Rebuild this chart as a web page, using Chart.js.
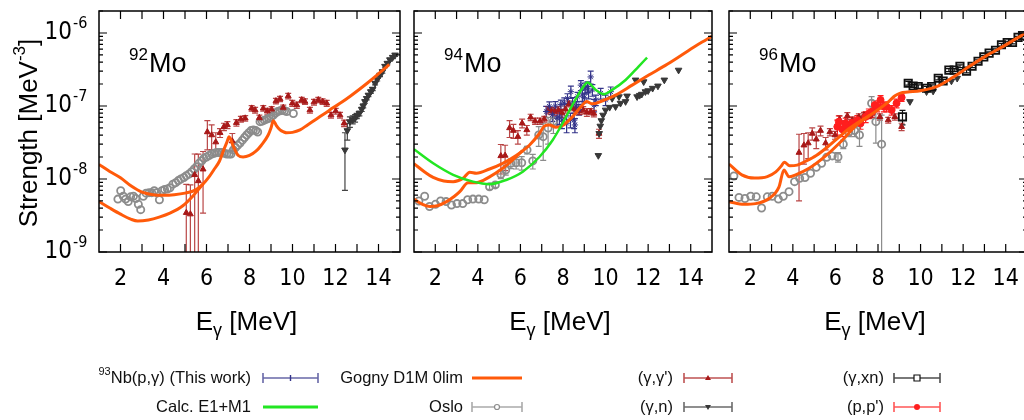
<!DOCTYPE html>
<html>
<head>
<meta charset="utf-8">
<script src="https://cdn.jsdelivr.net/npm/chart.js@4.4.1/dist/chart.umd.min.js"></script>
<style>
  body { margin: 0; width: 1024px; height: 420px; overflow: hidden; background: #fff; position: relative; }
  canvas { position: absolute; top: 0; }
</style>
</head>
<body>
<canvas id="c92" width="410" height="340" style="left:0px"></canvas>
<canvas id="c94" width="318" height="340" style="left:404px"></canvas>
<canvas id="c96" width="318" height="340" style="left:719px"></canvas>
<canvas id="legend" width="1024" height="80" style="left:0px; top:340px"></canvas>
<script>
// axis ticks
const xTicks = [2, 4, 6, 8, 10, 12, 14];
const yExponents = [-9, -8, -7, -6];

// 92Mo  [E, strength, error]
const mo92Gogny = [[1.0,1.58e-8],[1.5,1.27e-8],[2.0,1.04e-8],[2.5,8.0e-9],[3.0,6.6e-9],[3.5,6.1e-9],[4.0,6.0e-9],[4.5,6.1e-9],[5.0,6.4e-9],[5.5,7.1e-9],[5.85,8.6e-9],[6.1,1.05e-8],[6.35,1.35e-8],[6.6,1.75e-8],[6.8,2.5e-8],[6.95,3.2e-8],[7.05,3.8e-8],[7.25,2.8e-8],[7.48,2.1e-8],[7.7,2.0e-8],[8.0,2.1e-8],[8.3,2.4e-8],[8.55,2.9e-8],[8.87,4.0e-8],[9.0,5.0e-8],[9.11,6.3e-8],[9.25,5.4e-8],[9.42,4.7e-8],[9.6,4.4e-8],[9.73,4.3e-8],[10.0,4.35e-8],[10.35,4.7e-8],[10.7,5.5e-8],[11.1,6.6e-8],[11.5,7.9e-8],[11.9,9.5e-8],[12.3,1.13e-7],[12.7,1.37e-7],[13.1,1.68e-7],[13.5,2.08e-7],[13.9,2.6e-7],[14.2,3.1e-7],[14.5,3.7e-7]];
const mo92GognyLow = [[1.0,4.9e-9],[1.5,4.0e-9],[2.0,3.3e-9],[2.5,2.8e-9],[2.8,2.66e-9],[3.3,2.75e-9],[3.8,3.0e-9],[4.3,3.4e-9],[4.9,4.3e-9],[5.4,6.0e-9],[5.85,8.6e-9]];
const mo92Oslo = [[1.88,5.3e-9],[2.01,6.9e-9],[2.13,5.8e-9],[2.24,5.3e-9],[2.36,4.9e-9],[2.47,5.7e-9],[2.6,5.8e-9],[2.71,5.4e-9],[2.83,4.5e-9],[2.94,3.8e-9],[3.06,5.8e-9],[3.19,6.4e-9],[3.33,6.5e-9],[3.45,6.5e-9],[3.57,6.9e-9],[3.68,6.5e-9],[3.81,5.2e-9],[3.93,6.9e-9],[4.05,7.2e-9],[4.18,7.3e-9],[4.3,7.6e-9],[4.44,8.5e-9],[4.57,8.9e-9],[4.69,9.5e-9],[4.81,1.0e-8],[4.95,1.05e-8],[5.06,1.11e-8],[5.19,1.17e-8],[5.31,1.26e-8],[5.43,1.37e-8],[5.54,1.47e-8],[5.65,1.64e-8],[5.78,1.78e-8],[5.88,1.92e-8],[6.0,2.0e-8],[6.12,2.1e-8],[6.24,2.2e-8],[6.36,2.25e-8],[6.47,2.3e-8],[6.59,2.3e-8],[6.71,2.3e-8],[6.83,2.25e-8],[6.94,2.2e-8],[7.05,2.2e-8],[7.14,2.2e-8],[7.25,2.5e-8],[7.35,2.7e-8],[7.45,2.9e-8],[7.56,3.1e-8],[7.67,3.4e-8],[7.77,3.7e-8],[7.87,4.0e-8],[7.97,4.3e-8],[8.07,4.6e-8],[8.18,4.7e-8],[8.29,4.6e-8],[8.38,4.4e-8],[8.49,6.1e-8],[8.59,6.2e-8],[8.69,6.4e-8],[8.8,6.6e-8],[8.91,6.8e-8],[9.01,7.1e-8],[9.11,7.5e-8],[9.21,8.0e-8],[9.31,8.4e-8],[9.42,8.6e-8],[9.53,8.8e-8],[9.63,8.6e-8],[9.73,8.4e-8],[10.04,7.9e-8]];
const mo92GammaGamma = [[5.06,3.45e-9,5.0e-9],[5.25,3.3e-9,5.0e-9],[5.45,1.14e-8,1.06e-8],[5.62,9.4e-9,1.25e-8],[5.84,1.36e-8,1.02e-8],[6.04,4.4e-8,1.9e-8],[6.24,4.0e-8,1.5e-8],[6.43,3.2e-8,1.1e-8],[6.63,4.3e-8,6e-9],[6.81,5.2e-8,6e-9],[6.97,5.5e-8,6e-9],[7.2,3.3e-8,9e-9],[7.39,5.9e-8,6e-9],[7.6,6.6e-8,6e-9],[7.8,6.8e-8,6e-9],[8.1,9.3e-8,8e-9],[8.26,8.8e-8,8e-9],[8.46,6.9e-8,6e-9],[8.64,9.3e-8,8e-9],[8.83,8.5e-8,8e-9],[9.03,9.0e-8,8e-9],[9.23,1.17e-7,1e-8],[9.42,1.25e-7,1e-8],[9.57,9.5e-8,8e-9],[9.8,1.37e-7,1.2e-8],[9.99,1.09e-7,1e-8],[10.2,1.03e-7,1e-8],[10.43,1.21e-7,1e-8],[10.58,1.15e-7,1e-8],[10.81,8.8e-8,8e-9],[11.0,1.13e-7,1e-8],[11.2,1.21e-7,1e-8],[11.4,1.15e-7,1e-8],[11.59,1.09e-7,1e-8],[11.79,7.5e-8,7e-9],[12.01,8.5e-8,8e-9],[12.21,7.5e-8,7e-9],[12.4,5.8e-8,6e-9]];
const mo92GammaN = [[12.44,2.5e-8,1.8e-8],[12.55,4.6e-8,1.2e-8],[12.67,6.1e-8,1.0e-8],[12.8,6.5e-8,8e-9],[12.91,6.8e-8,8e-9],[12.99,7.3e-8,6e-9],[13.11,7.9e-8,6e-9],[13.22,9.0e-8,6e-9],[13.29,1.0e-7,6e-9],[13.37,1.15e-7,6e-9],[13.45,1.27e-7,6e-9],[13.53,1.41e-7,7e-9],[13.64,1.57e-7,8e-9],[13.73,1.7e-7,8e-9],[13.84,2.05e-7,1e-8],[13.94,2.3e-7,1e-8],[14.07,2.65e-7,1.2e-8],[14.18,2.95e-7,1.4e-8],[14.3,3.5e-7,1.6e-8],[14.41,3.85e-7,1.8e-8],[14.53,4.3e-7,2e-8],[14.66,4.65e-7,2e-8],[14.77,5.0e-7,2.2e-8]];

// 94Mo
const mo94Gogny = [[1.0,1.62e-8],[1.5,1.25e-8],[1.9,1.05e-8],[2.4,9.4e-9],[2.84,9.2e-9],[3.3,1.02e-8],[3.62,1.24e-8],[3.93,1.2e-8],[4.55,1.37e-8],[5.17,1.64e-8],[5.8,2.1e-8],[6.42,2.9e-8],[6.89,4.2e-8],[7.12,5.3e-8],[7.36,5.5e-8],[7.67,5.1e-8],[7.98,5.4e-8],[8.44,7.1e-8],[8.91,1.03e-7],[9.1,1.15e-7],[9.38,1.07e-7],[9.85,1.18e-7],[10.47,1.41e-7],[11.25,1.93e-7],[12.03,2.65e-7],[12.81,3.6e-7],[13.58,5.0e-7],[14.36,7.0e-7],[15.0,9.0e-7]];
const mo94GognyLow = [[1.0,5.3e-9],[1.4,4.5e-9],[1.75,4.2e-9],[2.1,4.3e-9],[2.53,4.9e-9],[2.9,5.8e-9],[3.15,6.7e-9],[3.54,8.9e-9],[3.93,8.9e-9],[4.55,1.07e-8],[5.17,1.4e-8],[5.64,1.82e-8],[6.1,2.45e-8]];
const mo94Calc = [[1.0,2.55e-8],[1.9,1.64e-8],[2.84,1.14e-8],[3.77,9.2e-9],[4.55,8.5e-9],[5.33,9.7e-9],[6.11,1.26e-8],[6.89,2.0e-8],[7.51,3.4e-8],[7.98,5.8e-8],[8.44,1.03e-7],[8.91,1.75e-7],[9.15,2.1e-7],[9.54,1.66e-7],[9.93,1.45e-7],[10.31,1.66e-7],[10.94,2.27e-7],[11.56,3.5e-7],[11.95,4.6e-7]];
const mo94Oslo = [[1.23,5.0e-9],[1.5,5.8e-9],[1.73,4.2e-9],[2.01,4.5e-9],[2.25,5.0e-9],[2.51,4.9e-9],[2.76,4.4e-9],[3.02,4.6e-9],[3.29,4.6e-9],[3.52,5.2e-9],[3.77,5.3e-9],[4.04,5.3e-9],[4.3,5.2e-9],[4.55,7.8e-9,6e-10],[4.82,8.3e-9,6e-10],[5.08,1.16e-8,1.5e-9],[5.31,1.33e-8,2e-9],[5.55,1.64e-8,2.5e-9],[5.8,1.67e-8,3e-9],[6.06,1.67e-8,3.5e-9],[6.31,2.5e-8,3e-9],[6.58,1.77e-8,4e-9],[6.86,4.0e-8,1.2e-8],[7.07,3.8e-8,2e-8],[7.3,5.0e-8,2e-8],[7.55,6.2e-8,2e-8]];
const mo94GammaGamma = [[5.08,2.07e-8,9e-9],[5.28,2.1e-8,8e-9],[5.49,5.0e-8,1.3e-8],[5.67,4.6e-8,1e-8],[5.88,3.8e-8,8e-9],[6.08,5.8e-8,8e-9],[6.3,4.7e-8,7e-9],[6.48,7.0e-8,7e-9],[6.69,6.2e-8,6e-9],[6.92,6.2e-8,6e-9],[7.12,6.6e-8,6e-9],[7.3,8.8e-8,1e-8],[7.45,8.6e-8,1e-8],[7.6,8.4e-8,1e-8],[7.78,8.8e-8,1e-8],[7.95,8.0e-8,1e-8],[8.12,9.0e-8,1e-8],[8.28,1.07e-7,1e-8],[8.45,9.6e-8,1e-8],[8.6,9.0e-8,1e-8],[8.78,8.6e-8,1e-8],[8.95,8.8e-8,1e-8],[9.12,8.2e-8,1e-8],[9.3,8.4e-8,8e-9],[9.45,7.9e-8,8e-9],[9.69,4.2e-8,6e-9]];
const mo94ThisWork = [[7.21,8.4e-8,1.5e-8],[7.36,9.9e-8,1.5e-8],[7.5,7.6e-8,1.5e-8],[7.64,1.0e-7,1.5e-8],[7.72,6.8e-8,1.5e-8],[7.83,7.1e-8,1.5e-8],[7.9,1.05e-7,1.5e-8],[7.95,6.4e-8,1.5e-8],[8.06,1.09e-7,2e-8],[8.17,5.8e-8,1.5e-8],[8.21,1.27e-7,2e-8],[8.35,6.5e-8,1.5e-8],[8.37,1.57e-7,3e-8],[8.45,1.1e-7,2e-8],[8.52,6.4e-8,1.5e-8],[8.56,5.5e-8,1.2e-8],[8.62,1.0e-7,1.5e-8],[8.68,1.34e-7,2e-8],[8.75,9.0e-8,1.5e-8],[8.84,1.93e-7,3e-8],[8.91,1.41e-7,2.5e-8],[9.0,1.3e-7,2e-8],[9.04,1.75e-7,3e-8],[9.15,1.84e-7,3e-8],[9.2,1.55e-7,3e-8],[9.3,2.5e-7,5e-8],[9.38,1.66e-7,3e-8],[9.46,1.03e-7,2e-8],[9.54,1.21e-7,2e-8],[9.77,1.49e-7,2.5e-8],[10.0,1.21e-7,2e-8],[10.24,1.57e-7,2.5e-8]];
const mo94GammaN = [[9.66,2.1e-8],[9.7,4.2e-8],[9.75,5.3e-8],[9.8,6.3e-8],[9.88,7.5e-8],[10.0,8.8e-8],[10.19,9.6e-8],[10.31,1.27e-7],[10.47,9.8e-8],[10.63,1.34e-7],[10.7,1.09e-7],[10.94,1.15e-7],[11.01,1.37e-7],[11.41,2.27e-7],[11.48,1.34e-7],[11.6,1.4e-7],[11.7,1.45e-7],[11.79,2.15e-7],[11.87,1.57e-7],[12.0,1.62e-7],[12.21,1.75e-7],[12.46,1.88e-7],[12.76,2.27e-7],[13.43,3.1e-7]];

// 96Mo
const mo96Gogny = [[1.0,1.6e-8],[1.6,1.14e-8],[2.2,1.03e-8],[2.8,1.08e-8],[3.2,1.25e-8],[3.45,1.5e-8],[3.6,1.7e-8],[3.85,1.52e-8],[4.2,1.55e-8],[4.6,1.75e-8],[5.1,2.1e-8],[5.6,2.7e-8],[6.1,3.6e-8],[6.6,4.8e-8],[7.15,6.2e-8],[7.6,7.4e-8],[8.1,9.3e-8],[8.5,1.15e-7],[8.8,1.38e-7],[9.05,1.5e-7],[9.4,1.55e-7],[10.0,1.62e-7],[10.75,1.84e-7],[11.5,2.45e-7],[12.3,3.5e-7],[13.1,4.9e-7],[13.9,6.6e-7],[14.8,9.4e-7],[15.0,1.0e-6]];
const mo96GognyLow = [[1.0,4.9e-9],[1.7,4.5e-9],[2.25,4.6e-9],[2.88,5.4e-9],[3.35,7.8e-9],[3.58,1.33e-8],[3.82,1.07e-8],[4.13,1.14e-8],[4.76,1.4e-8],[5.54,2.07e-8],[6.32,3.4e-8],[7.0,5.5e-8],[7.6,7.4e-8]];
const mo96Oslo = [[1.23,1.1e-8],[1.47,5.6e-9],[1.75,5.4e-9],[2.02,5.8e-9],[2.28,5.7e-9],[2.53,4.0e-9],[2.8,5.7e-9],[3.03,5.8e-9],[3.32,5.3e-9],[3.55,5.8e-9],[3.82,6.7e-9],[4.08,9.2e-9],[4.32,1.02e-8],[4.57,1.05e-8],[4.83,1.2e-8],[5.1,1.45e-8],[5.35,1.64e-8],[5.59,1.98e-8],[5.85,2.07e-8],[6.12,2.0e-8,3e-9],[6.37,3.0e-8,4e-9],[6.63,4.4e-8,6e-9],[6.9,4.6e-8,8e-9],[7.13,4.0e-8,1.2e-8],[7.7,1.09e-7,2.5e-8],[7.9,6.1e-8,3e-8],[8.17,3.0e-8,4.5e-8]];
const mo96GammaGamma = [[4.29,2.3e-8,1.8e-8],[4.52,2.9e-8,1.3e-8],[4.72,3.1e-8,1.2e-8],[4.91,4.2e-8,8e-9],[5.1,3.5e-8,9e-9],[5.3,4.6e-8,7e-9],[5.54,3.1e-8,6e-9],[5.74,4.4e-8,5e-9],[5.98,4.0e-8,5e-9],[6.2,6.5e-8,8e-9],[6.56,7.3e-8,8e-9],[6.79,6.4e-8,7e-9],[7.1,7.1e-8,7e-9],[7.34,7.5e-8,7e-9],[7.62,7.5e-8,7e-9],[7.73,8.1e-8,7e-9],[8.09,7.1e-8,7e-9],[8.48,6.4e-8,6e-9],[8.79,7.1e-8,7e-9],[9.11,5.2e-8,6e-9]];
const mo96PP = [[6.09,5.2e-8,1.2e-8],[6.16,6.1e-8,1.2e-8],[6.32,4.8e-8,1e-8],[6.48,5.8e-8,1e-8],[6.63,5.0e-8,1e-8],[6.79,5.9e-8,1e-8],[7.03,6.4e-8,1e-8],[7.18,5.8e-8,1e-8],[7.42,7.1e-8,1.2e-8],[7.57,7.9e-8,1.2e-8],[7.73,8.4e-8,1.4e-8],[7.85,1.03e-7,1.5e-8],[7.96,9.8e-8,1.5e-8],[8.12,1.21e-7,1.8e-8],[8.28,9.8e-8,1.5e-8],[8.4,9.8e-8,1.5e-8],[8.64,8.8e-8,1.3e-8],[8.87,1.09e-7,1.5e-8],[9.11,1.31e-7,1.5e-8]];
const mo96GammaXn = [[9.15,7.1e-8,1.6e-8],[9.42,2.05e-7,1.2e-8],[9.65,1.88e-7,1e-8],[9.89,1.84e-7,1e-8],[10.28,1.75e-7,1e-8],[10.52,1.84e-7,1e-8],[10.83,2.4e-7,1.2e-8],[11.06,2.2e-7,1.2e-8],[11.33,3.1e-7,1.5e-8],[11.58,3.1e-7,1.5e-8],[11.85,3.5e-7,1.5e-8],[12.16,3.0e-7,1.5e-8],[12.42,3.5e-7,1.5e-8],[12.7,4.1e-7,2e-8],[12.97,4.7e-7,2e-8],[13.22,5.3e-7,2e-8],[13.52,5.8e-7,2.5e-8],[13.8,6.9e-7,3e-8],[14.07,7.4e-7,3e-8],[14.32,7.4e-7,3e-8],[14.58,8.7e-7,3e-8],[14.79,9.2e-7,3e-8]];
const mo96GammaN = [[9.5,1.15e-7],[10.28,1.57e-7],[10.59,1.6e-7],[11.45,2.2e-7],[11.72,2.4e-7]];

const legendNames = ['(This work)', 'Calc. E1+M1', 'Gogny D1M 0lim', 'Oslo', "(γ,γ')", '(γ,n)', '(γ,xn)', "(p,p')"];

const SANS = '"Liberation Sans", Arial, sans-serif';
const NARROW = '"Liberation Sans Narrow", "DejaVu Sans Condensed", sans-serif';

const C = {
    work: '#34348a', calc: '#22e622', gogny: '#ff5a0a', oslo: '#8c8c8c',
    gg: '#a81818', gn: '#383838', xn: '#111111', pp: '#ff1e1e'
};

function pts(arr) { return arr.map(p => ({ x: p[0], y: p[1] })); }

function line(arr, color, w) {
    return { data: pts(arr), showLine: true, borderColor: color, borderWidth: w, pointRadius: 0,
        cubicInterpolationMode: 'monotone', fill: false, order: 0 };
}

function marks(arr, color, style, radius, open, errColor, rot) {
    return {
        data: pts(arr), errs: arr.map(p => p[2] || 0), errColor: errColor || color,
        showLine: false, order: 1,
        pointStyle: style, pointRadius: radius, pointRotation: rot || 0,
        pointBackgroundColor: open ? 'rgba(255,255,255,0)' : color,
        pointBorderColor: color, pointBorderWidth: open ? 1.8 : 1
    };
}

const errorBars = {
    id: 'errorBars',
    beforeDatasetsDraw(chart) {
        const { ctx, chartArea: a, scales: { x, y } } = chart;
        ctx.save();
        ctx.beginPath();
        ctx.rect(a.left, a.top, a.right - a.left, a.bottom - a.top);
        ctx.clip();
        ctx.lineWidth = 1.2;
        chart.data.datasets.forEach(ds => {
            if (!ds.errs) return;
            ctx.strokeStyle = ds.errColor;
            ds.data.forEach((p, i) => {
                const e = ds.errs[i];
                if (!e) return;
                const px = x.getPixelForValue(p.x);
                const top = y.getPixelForValue(p.y + e);
                const lo = p.y - e;
                const bot = lo > 0 ? y.getPixelForValue(lo) : a.bottom + 5;
                ctx.beginPath();
                ctx.moveTo(px, top); ctx.lineTo(px, bot);
                ctx.moveTo(px - 3, top); ctx.lineTo(px + 3, top);
                if (lo > 0) { ctx.moveTo(px - 3, bot); ctx.lineTo(px + 3, bot); }
                ctx.stroke();
            });
        });
        ctx.restore();
    }
};

function decor(iso, withY) {
    return {
        id: 'decor',
        afterDraw(chart) {
            const { ctx, chartArea: a, scales: { x, y } } = chart;
            ctx.save();
            ctx.strokeStyle = '#000';
            ctx.lineWidth = 1.5;
            ctx.strokeRect(a.left, a.top, a.right - a.left, a.bottom - a.top);

            // inward ticks on all four sides
            ctx.lineWidth = 1.2;
            ctx.beginPath();
            for (let v = 2; v <= 14; v++) {
                const px = x.getPixelForValue(v);
                ctx.moveTo(px, a.bottom); ctx.lineTo(px, a.bottom - 8);
                ctx.moveTo(px, a.top); ctx.lineTo(px, a.top + 8);
            }
            yExponents.forEach(e => {
                for (let k = 1; k <= 9; k++) {
                    const v = k * Math.pow(10, e);
                    if (v > y.max * 1.001) break;
                    const py = y.getPixelForValue(v);
                    const len = k === 1 ? 8 : 4;
                    ctx.moveTo(a.left, py); ctx.lineTo(a.left + len, py);
                    ctx.moveTo(a.right, py); ctx.lineTo(a.right - len, py);
                }
            });
            ctx.stroke();

            ctx.fillStyle = '#000';
            ctx.font = '23px ' + NARROW;
            ctx.textAlign = 'center';
            ctx.textBaseline = 'middle';
            xTicks.forEach(v => ctx.fillText(String(v), x.getPixelForValue(v), 279));

            if (withY) {
                yExponents.forEach(e => {
                    const py = y.getPixelForValue(Math.pow(10, e));
                    ctx.font = '24px ' + NARROW;
                    ctx.textAlign = 'right';
                    ctx.fillText('10', a.left - 27, py);
                    ctx.font = '16px ' + NARROW;
                    ctx.textAlign = 'left';
                    ctx.fillText(String(e), a.left - 26, py - 9);
                });
                // y title
                ctx.save();
                ctx.translate(30, 133);
                ctx.rotate(-Math.PI / 2);
                ctx.font = '26px ' + SANS;
                const t1 = 'Strength [MeV', t2 = '-3', t3 = ']';
                const w1 = ctx.measureText(t1).width, w3 = ctx.measureText(t3).width;
                ctx.font = '17px ' + SANS;
                const w2 = ctx.measureText(t2).width;
                let sx = -(w1 + w2 + w3) / 2;
                ctx.textAlign = 'left';
                ctx.textBaseline = 'middle';
                ctx.font = '26px ' + SANS;
                ctx.fillText(t1, sx, 0);
                ctx.font = '17px ' + SANS;
                ctx.fillText(t2, sx + w1, -10);
                ctx.font = '26px ' + SANS;
                ctx.fillText(t3, sx + w1 + w2, 0);
                ctx.restore();
            }

            // isotope label
            ctx.textAlign = 'left';
            ctx.textBaseline = 'alphabetic';
            ctx.font = '17px ' + SANS;
            const lx = a.left + 30;
            ctx.fillText(iso, lx, a.top + 49);
            const ws = ctx.measureText(iso).width;
            ctx.font = '27px ' + SANS;
            ctx.fillText('Mo', lx + ws + 1, a.top + 61);

            // x title
            ctx.font = '26px ' + SANS;
            const wE = ctx.measureText('E').width, wR = ctx.measureText(' [MeV]').width;
            ctx.font = '18px ' + SANS;
            const wG = ctx.measureText('γ').width;
            let tx = (a.left + a.right) / 2 - 3 - (wE + wG + wR) / 2;
            ctx.font = '26px ' + SANS;
            ctx.fillText('E', tx, 330);
            ctx.font = '18px ' + SANS;
            ctx.fillText('γ', tx + wE, 336);
            ctx.font = '26px ' + SANS;
            ctx.fillText(' [MeV]', tx + wE + wG, 330);
            ctx.restore();
        }
    };
}

function makeChart(id, iso, withY, padL, padR, datasets) {
    new Chart(document.getElementById(id), {
        type: 'scatter',
        data: { datasets },
        options: {
            responsive: false,
            animation: false,
            layout: { padding: { left: padL, right: padR, top: 11, bottom: 88 } },
            scales: {
                x: { type: 'linear', min: 1, max: 15, display: false },
                y: { type: 'logarithmic', min: 1e-9, max: 2e-6, display: false }
            },
            plugins: { legend: { display: false }, tooltip: { enabled: false } }
        },
        plugins: [errorBars, decor(iso, withY)]
    });
}

makeChart('c92', '92', true, 99, 10, [
    line(mo92Gogny, C.gogny, 3),
    line(mo92GognyLow, C.gogny, 3),
    marks(mo92GammaN, C.gn, 'triangle', 3.8, false, '#444', 180),
    marks(mo92GammaGamma, C.gg, 'triangle', 3.4, false, 'rgba(168,24,24,0.8)'),
    marks(mo92Oslo, C.oslo, 'circle', 3.6, true)
]);

makeChart('c94', '94', false, 10, 10, [
    line(mo94Calc, C.calc, 2.5),
    line(mo94Gogny, C.gogny, 3),
    line(mo94GognyLow, C.gogny, 3),
    marks(mo94GammaN, C.gn, 'triangle', 3.8, false, '#444', 180),
    marks(mo94ThisWork, C.work, 'star', 3.2, false),
    marks(mo94GammaGamma, C.gg, 'triangle', 3.4, false, 'rgba(168,24,24,0.8)'),
    marks(mo94Oslo, C.oslo, 'circle', 3.6, true)
]);

makeChart('c96', '96', false, 10, 10, [
    line(mo96Gogny, C.gogny, 3),
    line(mo96GognyLow, C.gogny, 3),
    marks(mo96GammaXn, C.xn, 'rect', 5.2, true),
    marks(mo96GammaN, C.gn, 'triangle', 3.8, false, '#444', 180),
    marks(mo96PP, C.pp, 'circle', 3.5, false),
    marks(mo96GammaGamma, C.gg, 'triangle', 3.4, false, 'rgba(168,24,24,0.8)'),
    marks(mo96Oslo, C.oslo, 'circle', 3.6, true)
]);

// legend below the panels
function drawLegend() {
    const ctx = document.getElementById('legend').getContext('2d');
    const rows = [38, 67];
    const cols = [[251, 263, 318], [463, 472, 522], [673, 684, 732], [884, 894, 940]];
    const entries = [
        { r: 0, c: 0, name: legendNames[0], sup: '93', pre: 'Nb(p,γ) ', color: C.work, kind: 'work' },
        { r: 1, c: 0, name: legendNames[1], color: C.calc, kind: 'line' },
        { r: 0, c: 1, name: legendNames[2], color: C.gogny, kind: 'line' },
        { r: 1, c: 1, name: legendNames[3], color: C.oslo, kind: 'circleOpen' },
        { r: 0, c: 2, name: legendNames[4], color: C.gg, kind: 'tri' },
        { r: 1, c: 2, name: legendNames[5], color: C.gn, kind: 'triDown' },
        { r: 0, c: 3, name: legendNames[6], color: C.xn, kind: 'square' },
        { r: 1, c: 3, name: legendNames[7], color: C.pp, kind: 'dot' }
    ];
    ctx.textBaseline = 'middle';
    entries.forEach(en => {
        const y = rows[en.r];
        const [tr, x1, x2] = cols[en.c];
        ctx.fillStyle = '#111';
        ctx.font = '16.5px ' + SANS;
        const main = (en.pre || '') + en.name;
        const wm = ctx.measureText(main).width;
        ctx.textAlign = 'right';
        ctx.fillText(main, tr, y);
        if (en.sup) {
            ctx.font = '11px ' + SANS;
            ctx.fillText(en.sup, tr - wm, y - 6);
        }
        const mx = (x1 + x2) / 2;
        ctx.strokeStyle = en.color;
        ctx.fillStyle = en.color;
        if (en.kind === 'line') {
            ctx.lineWidth = 3;
            ctx.beginPath(); ctx.moveTo(x1, y); ctx.lineTo(x2, y); ctx.stroke();
            return;
        }
        ctx.globalAlpha = 0.75;
        ctx.lineWidth = 1.6;
        ctx.beginPath();
        ctx.moveTo(x1, y); ctx.lineTo(x2, y);
        ctx.moveTo(x1, y - 5); ctx.lineTo(x1, y + 5);
        ctx.moveTo(x2, y - 5); ctx.lineTo(x2, y + 5);
        ctx.stroke();
        ctx.globalAlpha = 1;
        ctx.beginPath();
        if (en.kind === 'work') {
            ctx.lineWidth = 1.4;
            ctx.moveTo(mx, y - 3); ctx.lineTo(mx, y + 3); ctx.stroke();
        } else if (en.kind === 'circleOpen') {
            ctx.fillStyle = '#fff'; ctx.lineWidth = 1.2;
            ctx.arc(mx, y, 2.5, 0, Math.PI * 2); ctx.fill(); ctx.stroke();
        } else if (en.kind === 'tri') {
            ctx.moveTo(mx, y - 3); ctx.lineTo(mx + 3, y + 2); ctx.lineTo(mx - 3, y + 2); ctx.closePath(); ctx.fill();
        } else if (en.kind === 'triDown') {
            ctx.moveTo(mx, y + 3); ctx.lineTo(mx + 3, y - 2); ctx.lineTo(mx - 3, y - 2); ctx.closePath(); ctx.fill();
        } else if (en.kind === 'square') {
            ctx.fillStyle = '#fff'; ctx.lineWidth = 1.2;
            ctx.rect(mx - 3, y - 3, 6, 6); ctx.fill(); ctx.stroke();
        } else if (en.kind === 'dot') {
            ctx.arc(mx, y, 3, 0, Math.PI * 2); ctx.fill();
        }
    });
}
drawLegend();
</script>
</body>
</html>
